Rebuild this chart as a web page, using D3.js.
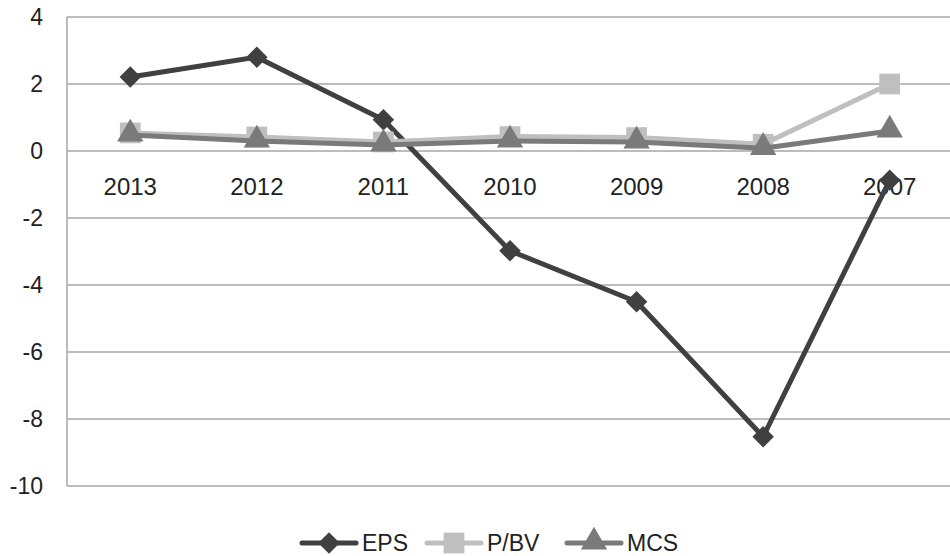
<!DOCTYPE html>
<html>
<head>
<meta charset="utf-8">
<script src="https://cdn.jsdelivr.net/npm/d3@7"></script>
<style>
  body { margin: 0; background: #fff; }
  text { font-family: "Liberation Sans", Arial, sans-serif; fill: #222; }
</style>
</head>
<body>
<svg id="chart" width="950" height="556"></svg>
<script>
// values
const years = ["2013", "2012", "2011", "2010", "2009", "2008", "2007"];
const eps  = [2.21, 2.8, 0.93, -2.98, -4.5, -8.53, -0.87];
const pbv  = [0.54, 0.42, 0.27, 0.43, 0.4, 0.2, 2.0];
const mcs  = [0.48, 0.3, 0.18, 0.3, 0.27, 0.08, 0.6];
const yTicks = [4, 2, 0, -2, -4, -6, -8, -10];

const series = [
  { name: "EPS",  values: eps, color: "#404040", marker: "diamond" },
  { name: "P/BV", values: pbv, color: "#bfbfbf", marker: "square" },
  { name: "MCS",  values: mcs, color: "#7a7a7a", marker: "triangle" }
];

const svg = d3.select("#chart");
const plotLeft = 67, plotRight = 953, plotTop = 17, plotBottom = 486;

const x = d3.scaleBand().domain(years).range([plotLeft, plotRight]);
const y = d3.scaleLinear().domain([-10, 4]).range([plotBottom, plotTop]);

// gridlines
svg.append("g")
  .selectAll("line")
  .data(yTicks)
  .enter()
  .append("line")
  .attr("x1", plotLeft)
  .attr("x2", plotRight)
  .attr("y1", d => y(d))
  .attr("y2", d => y(d))
  .attr("stroke", "#a6a6a6")
  .attr("stroke-width", 1.5);

// left axis line
svg.append("line")
  .attr("x1", plotLeft).attr("x2", plotLeft)
  .attr("y1", plotTop).attr("y2", plotBottom)
  .attr("stroke", "#a6a6a6")
  .attr("stroke-width", 1.5);

// y tick labels
svg.append("g")
  .selectAll("text")
  .data(yTicks)
  .enter()
  .append("text")
  .attr("x", 43)
  .attr("y", d => y(d))
  .attr("dy", "0.36em")
  .attr("text-anchor", "end")
  .style("font-size", "23px")
  .text(d => d);

// category labels sit just under the zero line
svg.append("g")
  .selectAll("text")
  .data(years)
  .enter()
  .append("text")
  .attr("x", d => x(d) + x.bandwidth() / 2)
  .attr("y", y(0) + 44)
  .attr("text-anchor", "middle")
  .style("font-size", "24px")
  .text(d => d);

const symbols = {
  diamond: d3.symbol().type(d3.symbolSquare).size(230),
  square: d3.symbol().type(d3.symbolSquare).size(430),
  triangle: d3.symbol().type(d3.symbolTriangle).size(300)
};

function drawMarker(g, s, cx, cy) {
  g.append("path")
    .attr("d", symbols[s.marker]())
    .attr("transform", `translate(${cx},${cy})` + (s.marker === "diamond" ? " rotate(45)" : "") + (s.marker === "triangle" ? " translate(0,-1)" : ""))
    .attr("fill", s.color);
}

const line = d3.line()
  .x((d, i) => x(years[i]) + x.bandwidth() / 2)
  .y(d => y(d));

series.forEach(s => {
  const g = svg.append("g");
  g.append("path")
    .datum(s.values)
    .attr("d", line)
    .attr("fill", "none")
    .attr("stroke", s.color)
    .attr("stroke-width", 5)
    .attr("stroke-linejoin", "round");
  s.values.forEach((v, i) => drawMarker(g, s, x(years[i]) + x.bandwidth() / 2, y(v)));
});

// legend
const legendX = [302, 427, 567];
const legY = 543;
series.forEach((s, i) => {
  const g = svg.append("g");
  g.append("line")
    .attr("x1", legendX[i]).attr("x2", legendX[i] + 54)
    .attr("y1", legY).attr("y2", legY)
    .attr("stroke", s.color)
    .attr("stroke-width", 5)
    .attr("stroke-linecap", "round");
  drawMarker(g, s, legendX[i] + 27, legY);
  g.append("text")
    .attr("x", legendX[i] + 60)
    .attr("y", legY)
    .attr("dy", "0.36em")
    .style("font-size", "23px")
    .text(s.name);
});
</script>
</body>
</html>
